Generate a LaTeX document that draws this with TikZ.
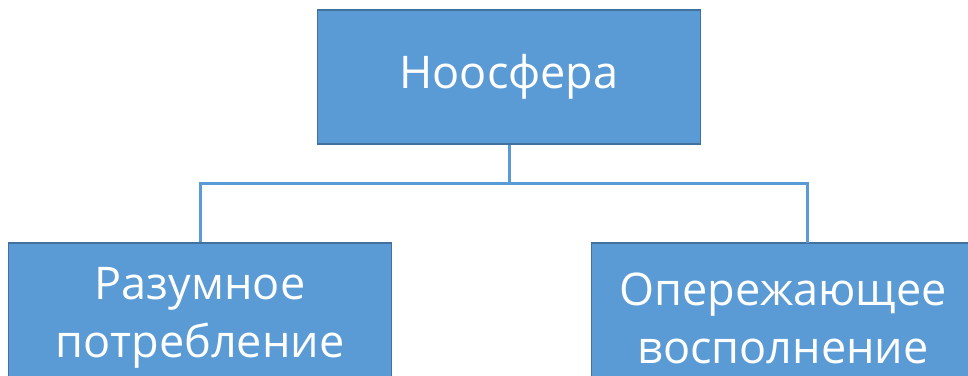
\documentclass[tikz,border=0pt]{standalone}
\usepackage{fontspec}
\setmainfont{Open Sans}
\usetikzlibrary{positioning}
\definecolor{boxblue}{HTML}{5B9BD5}
\definecolor{boxedge}{HTML}{41719C}

\begin{document}
\begin{tikzpicture}[x=1pt, y=1pt,
        block/.style={rectangle, draw=boxedge, line width=1.5pt, fill=boxblue, text=white, align=center,
            minimum width=383pt, minimum height=134pt, inner sep=0pt, font=\fontsize{45}{58}\selectfont},
        low/.style={block, minimum height=150pt},
        link/.style={draw=boxblue, line width=3pt}
    ]
        \useasboundingbox (0,0) rectangle (968,-375);
        \clip (0,0) rectangle (968,-375);

        \node[block] (Noo) at (509,-77) {Ноосфера};
        \node[low] (Use) at (200,-318) {Разумное\\потребление};
        \node[low] (Fill) at (783,-318) {Опережающее\\восполнение};

        \coordinate (Split) at (509,-183);
        \coordinate (FillIn) at (807,-243);

        \draw[link] (Noo) -- (Split);
        \draw[link] (Use) |- (Split) -| (FillIn);
    \end{tikzpicture}
\end{document}
